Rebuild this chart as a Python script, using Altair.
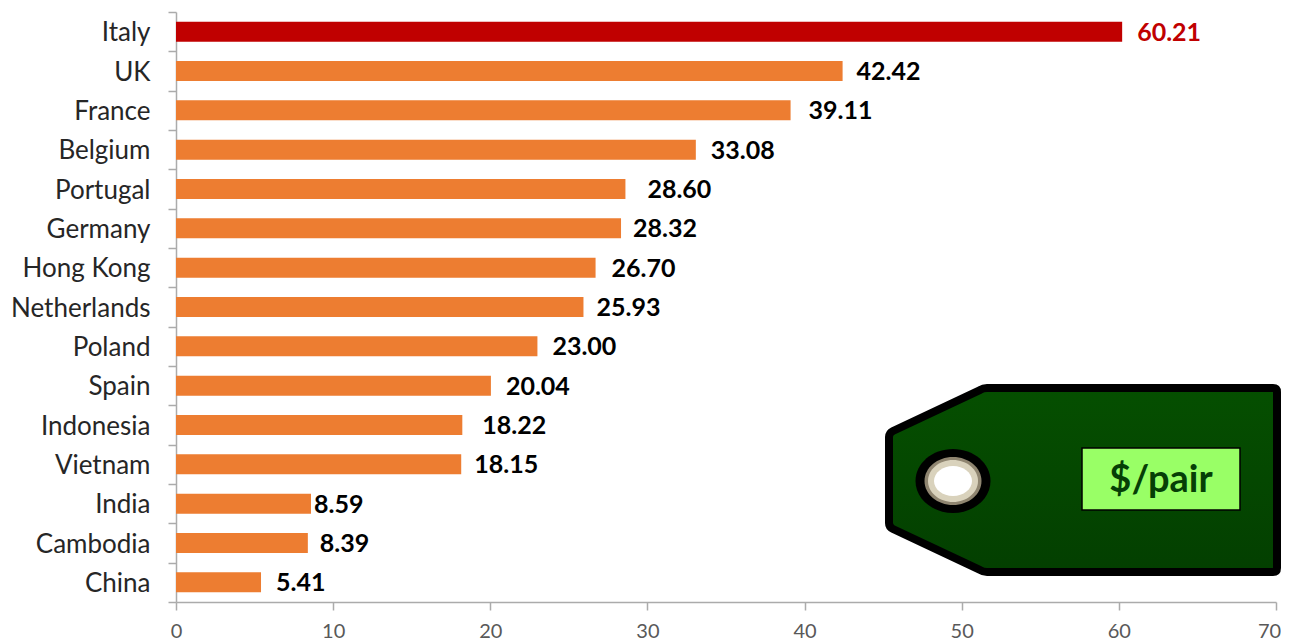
import altair as alt
import pandas as pd

countries = ["Italy", "UK", "France", "Belgium", "Portugal", "Germany", "Hong Kong", "Netherlands",
             "Poland", "Spain", "Indonesia", "Vietnam", "India", "Cambodia", "China"]
prices = [60.21, 42.42, 39.11, 33.08, 28.60, 28.32, 26.70, 25.93, 23.00, 20.04, 18.22, 18.15, 8.59, 8.39, 5.41]
label_gaps = [15, 14, 18, 15, 22, 12, 16, 13, 15, 15, 20, 13, 3, 12, 15]
x_ticks = [0, 10, 20, 30, 40, 50, 60, 70]

ORANGE, RED = "#ED7D31", "#C00000"
df = pd.DataFrame({"country": countries, "price": prices, "gap": label_gaps})
df["text"] = df["price"].map(lambda v: f"{v:.2f}")
df["bar_colour"] = [RED] + [ORANGE] * (len(df) - 1)
df["text_colour"] = [RED] + ["#000000"] * (len(df) - 1)
one = pd.DataFrame({"k": [0]})

FONT = "Lato"

y_scale = alt.Scale(paddingInner=0, paddingOuter=0)
y_enc = alt.Y("country:N", sort=countries, title=None, scale=y_scale,
              axis=alt.Axis(tickBand="extent", tickSize=8, tickWidth=1.5, tickColor="#ABABAB",
                            domainColor="#ABABAB", domainWidth=1.5, labelFont=FONT, labelFontSize=26,
                            labelColor="#262626", labelPadding=18, labelOffset=1, grid=False, labelLimit=300))
x_scale = alt.Scale(domain=[0, 70], nice=False)

bars = alt.Chart(df).mark_bar(cornerRadius=0, size=20).encode(
    x=alt.X("price:Q", scale=x_scale, title=None,
            axis=alt.Axis(values=x_ticks, tickSize=8, tickWidth=1.5, tickColor="#ABABAB",
                          domainColor="#ABABAB", domainWidth=1.5, labelFont=FONT, labelFontSize=20,
                          labelColor="#595959", labelPadding=11, labelFlush=False, grid=False, format="d",
                          labelOffset=alt.expr("datum.value == 70 ? -7 : 0"))),
    y=y_enc, color=alt.Color("bar_colour:N", scale=None))

labels = alt.Chart(df).transform_calculate(lx="datum.price + datum.gap * 70 / 1100").mark_text(
    align="left", baseline="middle", font=FONT, fontWeight="bold", fontSize=25, dy=1
).encode(
    x=alt.X("lx:Q", scale=x_scale),
    y=alt.Y("country:N", sort=countries, scale=y_scale),
    text="text:N",
    color=alt.Color("text_colour:N", scale=None),
)

tag_path = ("M-194,-43Q-194,-47 -190,-49L-103,-90Q-100,-92 -96,-92L190,-92Q194,-92 194,-88L194,88"
            "Q194,92 190,92L-96,92Q-100,92 -103,90L-190,49Q-194,47 -194,43Z")
tag = alt.Chart(one).mark_point(
    shape=tag_path, size=4, filled=True, opacity=1, stroke="#000000", strokeWidth=8,
    fill=alt.Gradient(gradient="linear", x1=0, y1=0, x2=0, y2=1,
                      stops=[alt.GradientStop(offset=0, color="#054F00"),
                             alt.GradientStop(offset=1, color="#033F00")]),
).encode(x=alt.value(907), y=alt.value(468))


def ellipse(rx, ry):
    return f"M{-rx},0A{rx},{ry} 0 1,1 {rx},0A{rx},{ry} 0 1,1 {-rx},0Z"


rings = [(37.5, 32, "#000000"), (28.5, 24, "#8F8570"), (25, 21, "#D9D2BC"), (19, 15, "#FFFFFF")]
eyelet = [
    alt.Chart(one).mark_point(shape=ellipse(rx, ry), size=4, filled=True, opacity=1, fill=c, strokeWidth=0)
    .encode(x=alt.value(777), y=alt.value(469))
    for rx, ry, c in rings
]

box = alt.Chart(one).mark_rect(fill="#99FF66", stroke="#000000", strokeWidth=1.5).encode(
    x=alt.value(906), x2=alt.value(1064), y=alt.value(436), y2=alt.value(498))
box_text = alt.Chart(one).mark_text(
    text="$/pair", font=FONT, fontWeight="bold", fontSize=38, color="#063F06", align="center", baseline="middle"
).encode(x=alt.value(985), y=alt.value(469))

chart = alt.layer(bars, labels, tag, *eyelet, box, box_text).properties(
    width=1100, height=590,
    background="white",
    autosize=alt.AutoSizeParams(type="none"),
    padding={"left": 168, "top": 4, "right": 5, "bottom": 38},
).configure_view(stroke=None)

chart.save("out.html", embed_options={"renderer": "svg", "actions": False})
